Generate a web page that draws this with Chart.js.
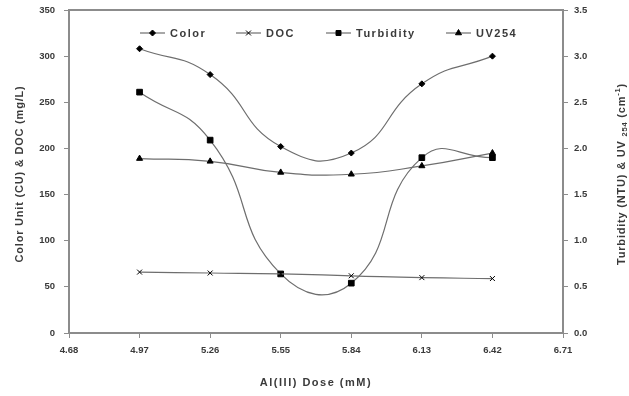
<!DOCTYPE html>
<html><head><meta charset="utf-8">
<script src="https://cdn.jsdelivr.net/npm/chart.js@4"></script>
<style>html,body{margin:0;padding:0;background:#fff}#wrap{width:629px;height:396px}</style>
</head><body><div id="wrap"><canvas id="c" width="629" height="396"></canvas></div>
<script>
const doses = [4.97, 5.26, 5.55, 5.84, 6.13, 6.42];
const xTicks = [4.68, 4.97, 5.26, 5.55, 5.84, 6.13, 6.42, 6.71];
const colorCU = [308, 280, 202, 195, 270, 300];
const docMgL = [66, 65, 64, 62, 60, 59];
const turbidity = [2.61, 2.09, 0.64, 0.54, 1.90, 1.90];
const uv254 = [1.89, 1.86, 1.74, 1.72, 1.81, 1.95];
const leftTicks = [0, 50, 100, 150, 200, 250, 300, 350];
const rightTicks = [0, 0.5, 1, 1.5, 2, 2.5, 3, 3.5];
const seriesNames = ['Color', 'DOC', 'Turbidity', 'UV254'];

const FONT = '"Liberation Sans", Arial, sans-serif';
const LINE = '#6e6e6e';
const AXIS = '#8c8c8c';
const TXT = '#3a3a3a';

function pts(vals){ return doses.map((d,i)=>({x:d, y:vals[i]})); }
function ds(label, vals, axis, style, radius){
  return {label, data: pts(vals), yAxisID: axis, borderColor: LINE, borderWidth: 1.2,
    tension: 0.5, pointStyle: style, pointRadius: radius, pointBackgroundColor: '#000',
    pointBorderColor: '#000', pointBorderWidth: 1, fill: false};
}

const overlay = {
  id: 'overlay',
  afterDraw(chart){
    const ctx = chart.ctx, a = chart.chartArea;
    ctx.save();
    ctx.strokeStyle = AXIS; ctx.lineWidth = 2;
    ctx.beginPath(); ctx.moveTo(a.left, a.top); ctx.lineTo(a.right, a.top); ctx.stroke();
    const items = [
      {name: seriesNames[0], x: 140, style: 'rectRot', r: 3},
      {name: seriesNames[1], x: 236, style: 'crossRot', r: 3.5},
      {name: seriesNames[2], x: 326, style: 'rect', r: 3.5},
      {name: seriesNames[3], x: 446, style: 'triangle', r: 3.5}
    ];
    const ly = 33;
    ctx.font = 'bold 11px ' + FONT; ctx.textBaseline = 'middle'; ctx.textAlign = 'left';
    ctx.letterSpacing = '1.5px';
    items.forEach(it=>{
      ctx.strokeStyle = LINE; ctx.lineWidth = 1.2;
      ctx.beginPath(); ctx.moveTo(it.x, ly); ctx.lineTo(it.x + 25, ly); ctx.stroke();
      ctx.fillStyle = '#000'; ctx.strokeStyle = '#000'; ctx.lineWidth = 1;
      Chart.helpers.drawPoint(ctx, {pointStyle: it.style, radius: it.r, rotation: 0, borderWidth: 1}, it.x + 12.5, ly);
      ctx.fillStyle = TXT;
      ctx.fillText(it.name, it.x + 30, ly + 0.5);
    });
    ctx.fillStyle = TXT;
    ctx.font = 'bold 11px ' + FONT; ctx.textAlign = 'center';
    ctx.fillText('Al(III) Dose (mM)', 316, 383);
    ctx.letterSpacing = '0.8px';
    const cy = 174;
    ctx.save(); ctx.translate(20, cy); ctx.rotate(-Math.PI/2);
    ctx.fillText('Color Unit (CU) & DOC (mg/L)', 0, 0); ctx.restore();
    ctx.save(); ctx.translate(622, cy); ctx.rotate(-Math.PI/2);
    const parts = [
      {t: 'Turbidity (NTU) & UV ', s: 11, dy: 0},
      {t: '254', s: 7.5, dy: 3},
      {t: ' (cm', s: 11, dy: 0},
      {t: '-1', s: 7.5, dy: -4},
      {t: ')', s: 11, dy: 0}
    ];
    let total = 0;
    parts.forEach(p=>{ ctx.font = 'bold ' + p.s + 'px ' + FONT; p.w = ctx.measureText(p.t).width; total += p.w; });
    let x = -total/2; ctx.textAlign = 'left';
    parts.forEach(p=>{ ctx.font = 'bold ' + p.s + 'px ' + FONT; ctx.fillText(p.t, x, p.dy); x += p.w; });
    ctx.restore();
    ctx.letterSpacing = '0px';
    ctx.restore();
  }
};

function fitY(w){ return s => { s.width = w; s.paddingTop = 0; s.paddingBottom = 0; }; }

new Chart(document.getElementById('c'), {
  type: 'line',
  data: { datasets: [
    ds(seriesNames[0], colorCU, 'y', 'rectRot', 3),
    ds(seriesNames[1], docMgL, 'y', 'crossRot', 3.5),
    ds(seriesNames[2], turbidity, 'y2', 'rect', 4),
    ds(seriesNames[3], uv254, 'y2', 'triangle', 3.5)
  ]},
  options: {
    responsive: false, animation: false, events: [],
    layout: { padding: { top: 10, left: 0, right: 0, bottom: 0 } },
    plugins: { legend: { display: false }, tooltip: { enabled: false } },
    scales: {
      x: { type: 'linear', min: xTicks[0], max: xTicks[xTicks.length-1],
        afterBuildTicks: s => { s.ticks = xTicks.map(v=>({value: v})); },
        afterFit: s => { s.height = 63; },
        grid: { drawOnChartArea: false, tickLength: 5, color: AXIS },
        border: { color: AXIS, width: 2 },
        ticks: { autoSkip: false, maxRotation: 0, color: TXT, padding: 7,
          font: { family: FONT, size: 9.5, weight: 'bold' },
          callback: v => v.toFixed(2) } },
      y: { position: 'left', min: 0, max: 350,
        afterBuildTicks: s => { s.ticks = leftTicks.map(v=>({value: v})); },
        afterFit: fitY(69),
        grid: { drawOnChartArea: false, tickLength: 5, color: AXIS },
        border: { color: AXIS, width: 2 },
        ticks: { color: TXT, padding: 9, font: { family: FONT, size: 9.5, weight: 'bold' },
          callback: v => String(v) } },
      y2: { position: 'right', min: 0, max: 3.5,
        afterBuildTicks: s => { s.ticks = rightTicks.map(v=>({value: v})); },
        afterFit: fitY(66),
        grid: { drawOnChartArea: false, tickLength: 5, color: AXIS },
        border: { color: AXIS, width: 2 },
        ticks: { color: TXT, padding: 6, font: { family: FONT, size: 9.5, weight: 'bold' },
          callback: v => v.toFixed(1) } }
    }
  },
  plugins: [overlay]
});
</script></body></html>
